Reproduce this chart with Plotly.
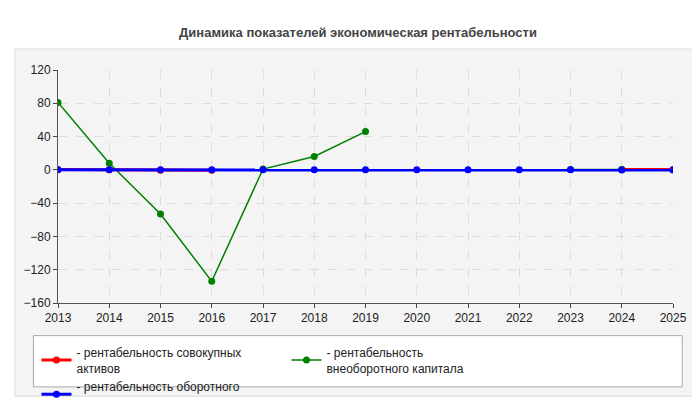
import plotly.graph_objects as go

years = list(range(2013, 2026))
assets = [0.5, 0, -0.5, -0.5, None, None, None, None, None, None, None, 0.5, 0.5]
noncurrent = [81, 8, -53, -134, 1, 16, 46, None, None, None, 0.5, 0.3, None]
current = [0, 0, 0, 0, 0, 0, 0, 0, 0, 0, 0, -0.3, -0.3]

names = ["- рентабельность совокупных<br>активов",
         "- рентабельность<br>внеоборотного капитала",
         "- рентабельность оборотного<br>капитала"]

fig = go.Figure()
fig.add_trace(go.Scatter(x=years, y=assets, name=names[0], mode="lines+markers",
                         line=dict(color="red", width=3), marker=dict(size=7)))
fig.add_trace(go.Scatter(x=years, y=noncurrent, name=names[1], mode="lines+markers",
                         line=dict(color="green", width=1.5), marker=dict(size=7)))
fig.add_trace(go.Scatter(x=years, y=current, name=names[2], mode="lines+markers",
                         line=dict(color="blue", width=3), marker=dict(size=7)))

fig.update_layout(
    width=700, height=400,
    margin=dict(l=50, r=35, t=62, b=105, autoexpand=False),
    paper_bgcolor="white", plot_bgcolor="#fbfbf5",
    font=dict(family="Arial, Liberation Sans", size=12, color="#222"),
    title=dict(text="<b>Динамика показателей экономическая рентабельности</b>",
               x=0.5, y=0.95, xanchor="center", font=dict(size=13, color="#444")),
    showlegend=True,
    legend=dict(orientation="h", x=-0.035, y=-0.15, xanchor="left", yanchor="top",
                font=dict(size=12), entrywidth=205, bgcolor="rgba(0,0,0,0)",
                itemwidth=30),
    shapes=[
        dict(type="rect", xref="paper", yref="paper", x0=-0.07, x1=1.045, y0=-0.4, y1=1.09,
             fillcolor="#f4f4f4", line=dict(color="#dddddd", width=1), layer="below"),
        dict(type="rect", xref="paper", yref="paper", x0=-0.04, x1=1.015, y0=-0.36, y1=-0.14,
             fillcolor="white", line=dict(color="#aaaaaa", width=1), layer="below"),
    ],
)
fig.update_xaxes(range=[2013, 2025], dtick=1, showgrid=True, gridcolor="#dddddd", griddash="dash",
                 zeroline=False, showline=True, linecolor="#555", ticks="outside", ticklen=4)
fig.update_yaxes(range=[-160, 120], dtick=40, showgrid=True, gridcolor="#dddddd", griddash="dash",
                 zeroline=False, showline=True, linecolor="#555", ticks="outside", ticklen=4)

fig.write_html("out.html")
